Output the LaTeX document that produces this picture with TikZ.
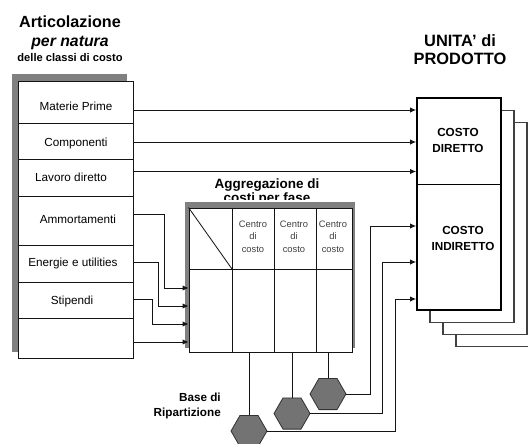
\documentclass[tikz,border=0pt]{standalone}
\usepackage{fontspec}
\setmainfont{Liberation Sans}
\usetikzlibrary{arrows.meta,positioning,calc,shapes.geometric}
\definecolor{grigioOmbra}{RGB}{128,128,128}
\definecolor{grigioEsa}{RGB}{115,115,115}
\colorlet{Inchiostro}{black!92}
\colorlet{Bordo}{black!75}
\colorlet{TestoCentro}{black!75}

\begin{document}
\begin{tikzpicture}[
    x=0.03cm,y=-0.03cm,
    freccia/.style={-{Latex[length=5pt,width=4.5pt]},line width=0.7pt,Inchiostro},
    filo/.style={line width=0.7pt,Inchiostro},
    voce/.style={font=\fontsize{10}{12}\selectfont,anchor=base,inner sep=0pt,text=black},
    titolo/.style={font=\bfseries\fontsize{13.8}{16}\selectfont,anchor=base,inner sep=0pt,text=black},
    costo/.style={font=\bfseries\fontsize{10}{13.3}\selectfont,align=center,inner sep=0pt,text=black},
    esagono/.style={regular polygon,regular polygon sides=6,minimum size=1.08cm,inner sep=0pt,
      fill=grigioEsa,draw=black!80,line width=0.7pt}
  ]
  \useasboundingbox (0,0) rectangle (528,443);

  \node[titolo] (art) at (70,27) {Articolazione};
  \node[titolo,font=\bfseries\itshape\fontsize{13.5}{16}\selectfont] (nat) at (70,46) {per natura};
  \node[titolo,font=\bfseries\fontsize{9.5}{11}\selectfont] (cls) at (70,61.5) {delle classi di costo};

  \fill[grigioOmbra] (12,74) rectangle (127,352);
  \foreach \ya/\yb in {81/123,123/159,159/196,196/245,245/282,282/318,318/358}{
    \filldraw[fill=white,draw=Inchiostro,line width=0.8pt] (18,\ya) rectangle (133,\yb);
  }
  \foreach \x/\y/\t/\n in {76/110/Materie Prime/mp,76/146/Componenti/comp,
      71/181.5/Lavoro diretto/lav,78/223/Ammortamenti/amm,
      73/266/Energie e utilities/ene,72/304/Stipendi/sti}{
    \node[voce] (\n) at (\x,\y) {\t};
  }

  \node[titolo,font=\bfseries\fontsize{14}{15.5}\selectfont,align=center,anchor=center]
    (unita) at (460,50) {UNITA' di\\PRODOTTO};
  \foreach \k in {3,2,1}{
    \filldraw[fill=white,draw=Bordo,line width=1pt]
      ({417+13*\k},{98+12.3*\k}) rectangle ++(84,212);
  }
  \node[draw=black,line width=1.6pt,fill=white,minimum width=2.52cm,minimum height=6.36cm,
    inner sep=0pt] (ud) at (459,204) {};
  \coordinate (div) at (417,184);
  \draw[line width=0.8pt] (div) -- (div -| ud.east);
  \node[costo] (dir) at (458,140.5) {COSTO\\DIRETTO};
  \node[costo] (ind) at (463,238.5) {COSTO\\INDIRETTO};

  \node[titolo,font=\bfseries\fontsize{11.5}{12.75}\selectfont,align=center,anchor=center]
    (agg) at (267,192) {Aggregazione di\\costi per fase};
  \fill[white] (180,199.5) rectangle (360,202);
  \fill[grigioOmbra] (185,202) rectangle (355,348);
  \node[draw=Inchiostro,line width=0.8pt,fill=white,minimum width=4.89cm,minimum height=4.32cm,
    inner sep=0pt] (mat) at (270.5,280) {};
  \coordinate (riga) at (189,269);
  \draw[filo] (riga) -- (riga -| mat.east);
  \foreach \x in {232,274,316}{
    \draw[filo] (\x,208) -- (\x,352);
  }
  \draw[filo] (mat.north west) -- (232,269);
  \foreach \x/\n in {253/cc1,294/cc2,333/cc3}{
    \node[font=\fontsize{8}{10.6}\selectfont,align=center,inner sep=0pt,text=TestoCentro]
      (\n) at (\x,236.5) {Centro\\di\\costo};
  }

  \coordinate (s1) at (133,110);
  \coordinate (s2) at (133,142);
  \coordinate (s3) at (133,171.5);
  \foreach \s in {s1,s2,s3}{
    \draw[freccia] (\s) -- (\s -| ud.west);
  }
  \coordinate (s4) at (133,214); \coordinate (e4) at (164,288);
  \coordinate (s5) at (133,262); \coordinate (e5) at (158,306);
  \coordinate (s6) at (133,299); \coordinate (e6) at (152,324);
  \coordinate (s7) at (133,342);
  \draw[freccia] (s4) -| (e4) -- (e4 -| mat.west);
  \draw[freccia] (s5) -| (e5) -- (e5 -| mat.west);
  \draw[freccia] (s6) -| (e6) -- (e6 -| mat.west);
  \draw[freccia] (s7) -- (s7 -| mat.west);

  \node[esagono] (h1) at (328,394) {};
  \node[esagono] (h2) at (292,413.5) {};
  \node[esagono] (h3) at (249,431) {};
  \foreach \h in {h1,h2,h3}{
    \draw[filo] (\h.north) -- (\h.north |- mat.south);
  }
  \coordinate (k1) at (370,226);
  \coordinate (k2) at (382,262);
  \coordinate (k3) at (395,299);
  \draw[freccia] (h1.east) -| (k1) -- (k1 -| ud.west);
  \draw[freccia] (h2.east) -| (k2) -- (k2 -| ud.west);
  \draw[freccia] (h3.east) -| (k3) -- (k3 -| ud.west);

  \node[font=\bfseries\fontsize{10}{13}\selectfont,align=right,anchor=east,inner sep=0pt,
    text=black] (base) at (221,406) {Base di\\Ripartizione};
\end{tikzpicture}
\end{document}
